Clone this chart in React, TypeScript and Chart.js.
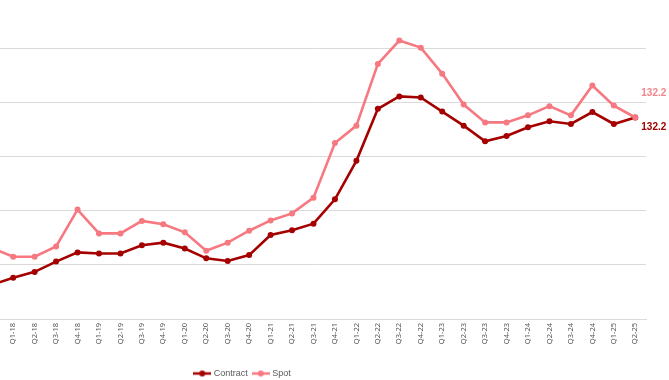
import React, { useEffect, useRef } from "react";
import { Chart, registerables } from "chart.js";

Chart.register(...registerables);

const quarterLabels = [
  "Q4-17", "Q1-18", "Q2-18", "Q3-18", "Q4-18", "Q1-19", "Q2-19", "Q3-19", "Q4-19",
  "Q1-20", "Q2-20", "Q3-20", "Q4-20", "Q1-21", "Q2-21", "Q3-21", "Q4-21",
  "Q1-22", "Q2-22", "Q3-22", "Q4-22", "Q1-23", "Q2-23", "Q3-23", "Q4-23",
  "Q1-24", "Q2-24", "Q3-24", "Q4-24", "Q1-25", "Q2-25",
];

const contractValues = [
  101.3, 102.6, 103.7, 105.6, 107.3, 107.1, 107.1, 108.6, 109.1,
  108.0, 106.2, 105.7, 106.8, 110.5, 111.4, 112.6, 117.1,
  124.2, 133.8, 136.1, 135.9, 133.3, 130.7, 127.8, 128.8,
  130.4, 131.5, 131.0, 133.2, 131.0, 132.2,
];

const spotValues = [
  108.1, 106.5, 106.5, 108.4, 115.2, 110.8, 110.8, 113.1, 112.5,
  111.0, 107.6, 109.1, 111.3, 113.2, 114.5, 117.4, 127.5,
  130.7, 142.1, 146.4, 145.1, 140.3, 134.6, 131.3, 131.3,
  132.6, 134.3, 132.6, 138.1, 134.4, 132.2,
];

const seriesNames = ["Contract", "Spot"];
const yMin = 95;
const yMax = 155;
const yStep = 10;

const CONTRACT_COLOR = "#A50000";
const SPOT_COLOR = "#F67880";
const GRID_COLOR = "#DADADA";
const TEXT_COLOR = "#595959";

function makeMarker(color: string): HTMLCanvasElement {
  const c = document.createElement("canvas");
  c.width = 18;
  c.height = 8;
  const ctx = c.getContext("2d")!;
  ctx.strokeStyle = color;
  ctx.lineWidth = 2.5;
  ctx.beginPath();
  ctx.moveTo(0, 4);
  ctx.lineTo(18, 4);
  ctx.stroke();
  ctx.fillStyle = color;
  ctx.beginPath();
  ctx.arc(9, 4, 3, 0, Math.PI * 2);
  ctx.fill();
  return c;
}

const endLabelPlugin = {
  id: "endLabels",
  afterDatasetsDraw(chart: any) {
    const ctx = chart.ctx;
    ctx.save();
    ctx.font = "bold 10px 'Liberation Sans', Arial, sans-serif";
    ctx.textBaseline = "middle";
    ctx.textAlign = "left";
    chart.data.datasets.forEach((ds: any, i: number) => {
      const meta = chart.getDatasetMeta(i);
      const last = meta.data[meta.data.length - 1];
      if (!last) return;
      const value = ds.data[ds.data.length - 1];
      ctx.fillStyle = ds.labelColor;
      const dy = ds.label === "Spot" ? -24 : 10;
      ctx.fillText(value.toFixed(1), last.x + 6, last.y + dy);
    });
    ctx.restore();
  },
};

export default function App() {
  const ref = useRef<HTMLCanvasElement>(null);

  useEffect(() => {
    if (!ref.current) return;
    const markers: Record<string, HTMLCanvasElement> = {
      Contract: makeMarker(CONTRACT_COLOR),
      Spot: makeMarker(SPOT_COLOR),
    };
    const chart = new Chart(ref.current, {
      type: "line",
      data: {
        labels: quarterLabels,
        datasets: [
          {
            label: seriesNames[1],
            data: spotValues,
            borderColor: SPOT_COLOR,
            backgroundColor: SPOT_COLOR,
            borderWidth: 2.6,
            pointRadius: 3,
            pointBorderWidth: 0,
            pointBackgroundColor: SPOT_COLOR,
            tension: 0,
            labelColor: "#F4858B",
          } as any,
          {
            label: seriesNames[0],
            data: contractValues,
            borderColor: CONTRACT_COLOR,
            backgroundColor: CONTRACT_COLOR,
            borderWidth: 2.6,
            pointRadius: 3,
            pointBorderWidth: 0,
            pointBackgroundColor: CONTRACT_COLOR,
            tension: 0,
            labelColor: "#A00000",
          } as any,
        ],
      },
      options: {
        responsive: false,
        animation: false,
        devicePixelRatio: 1,
        layout: { padding: { left: 0, right: 23, top: 0, bottom: 0 } },
        plugins: {
          tooltip: { enabled: false },
          legend: {
            display: true,
            position: "bottom",
            labels: {
              usePointStyle: true,
              pointStyleWidth: 14,
              padding: 6,
              color: TEXT_COLOR,
              font: { size: 9, family: "'Liberation Sans', Arial, sans-serif" },
              generateLabels: () =>
                seriesNames.map((name) => ({
                  text: name,
                  pointStyle: markers[name],
                  fillStyle: "transparent",
                  strokeStyle: "transparent",
                  lineWidth: 0,
                  fontColor: TEXT_COLOR,
                  hidden: false,
                  datasetIndex: name === "Spot" ? 0 : 1,
                })),
            },
          },
        },
        scales: {
          x: {
            type: "category",
            offset: true,
            grid: { display: false, drawTicks: false },
            border: { display: true, color: GRID_COLOR, width: 1 },
            ticks: {
              autoSkip: false,
              minRotation: 90,
              maxRotation: 90,
              padding: 4,
              color: TEXT_COLOR,
              font: { size: 7.5, family: "'Noto Sans', sans-serif" },
            },
            afterFit: (s: any) => {
              s.height = 44;
            },
          },
          y: {
            type: "linear",
            min: yMin,
            max: yMax,
            ticks: { display: false, stepSize: yStep },
            grid: { color: GRID_COLOR, lineWidth: 1, drawTicks: false },
            border: { display: false },
            afterFit: (s: any) => {
              s.width = 141;
            },
          },
        },
      } as any,
      plugins: [endLabelPlugin],
    });
    return () => chart.destroy();
  }, []);

  return (
    <div
      style={{
        position: "fixed",
        left: 0,
        top: 0,
        width: 669,
        height: 380,
        overflow: "hidden",
        background: "#ffffff",
      }}
    >
      <canvas
        ref={ref}
        width={829}
        height={398}
        style={{ position: "absolute", left: -160, top: -10, width: 829, height: 398 }}
      />
    </div>
  );
}
